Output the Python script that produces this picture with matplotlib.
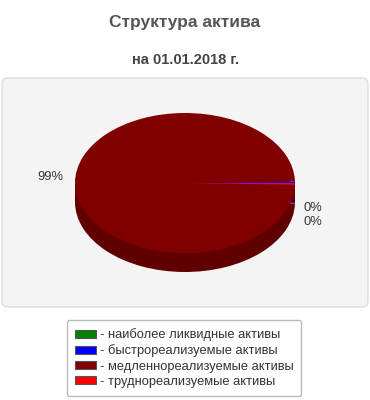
import numpy as np
import matplotlib.pyplot as plt
from matplotlib.patches import FancyBboxPatch, Rectangle

plt.rcParams['font.family'] = ['Liberation Sans', 'DejaVu Sans']

categories = ['наиболее ликвидные активы', 'быстрореализуемые активы',
              'медленнореализуемые активы', 'труднореализуемые активы']
values = [0.0, 0.4, 99.2, 0.4]
colors = ['#008000', '#0000ff', '#800000', '#ff0000']
side_colors = ['#005a00', '#0000b0', '#600000', '#b00000']

depth = 0.27

fig = plt.figure(figsize=(3.7, 4.0), dpi=100)
fig.patch.set_facecolor('white')

# panel behind the pie
panel = FancyBboxPatch((2 / 370, 1 - 307 / 400), 366 / 370, 229 / 400,
                       boxstyle='round,pad=0,rounding_size=0.015',
                       transform=fig.transFigure, facecolor='#f4f4f4',
                       edgecolor='#dddddd', linewidth=1, zorder=-5)
fig.patches.append(panel)

fig.text(0.5, 1 - 22 / 400, 'Структура актива', ha='center', va='center',
         fontsize=12.5, fontweight='bold', color='#555555')
fig.text(0.5, 1 - 60 / 400, 'на 01.01.2018 г.', ha='center', va='center',
         fontsize=10.5, fontweight='bold', color='#444444')

ax = fig.add_axes([75 / 370, 1 - 272 / 400, 220 / 370, 159 / 400])
ax.set_zorder(1)

# side (depth) of the pie
ax.pie(values, colors=side_colors, startangle=0, counterclock=True,
       center=(0, -depth), wedgeprops=dict(linewidth=0))
ax.add_patch(Rectangle((-1, -depth), 2, depth, facecolor=side_colors[2],
                       edgecolor='none', zorder=0.5))
wedges, _ = ax.pie(values, colors=colors, startangle=0, counterclock=True,
                   wedgeprops=dict(linewidth=0))
for w in wedges:
    w.set_zorder(2)

ax.set_aspect('auto')
ax.set_xlim(-1, 1)
ax.set_ylim(-1 - depth, 1)
ax.axis('off')

# percentage labels
total = sum(values)
small = 0
for v in values:
    if v <= 0:
        continue
    pct = '%d%%' % int(v / total * 100)
    if v / total > 0.5:
        ax.text(-1.11, 0.09, pct, ha='right', va='center', fontsize=9.3,
                color='#333333', zorder=5, clip_on=False)
    else:
        ax.text(1.08, -0.36 - 0.2 * small, pct, ha='left', va='center',
                fontsize=9.3, color='#333333', zorder=5, clip_on=False)
        small += 1

handles = [Rectangle((0, 0), 1, 1, facecolor=c, edgecolor='#555555', linewidth=0.8)
           for c in colors]
leg = fig.legend(handles, ['- ' + c for c in categories],
                 loc='center', bbox_to_anchor=(184 / 370, 1 - 358 / 400),
                 fontsize=9.3, frameon=True, fancybox=True,
                 handlelength=1.7, handleheight=0.6, handletextpad=0.25,
                 labelspacing=0.25, borderpad=0.6, labelcolor='#333333')
leg.get_frame().set_edgecolor('#aaaaaa')
leg.get_frame().set_linewidth(1)

fig.savefig('out.png', dpi=100)
